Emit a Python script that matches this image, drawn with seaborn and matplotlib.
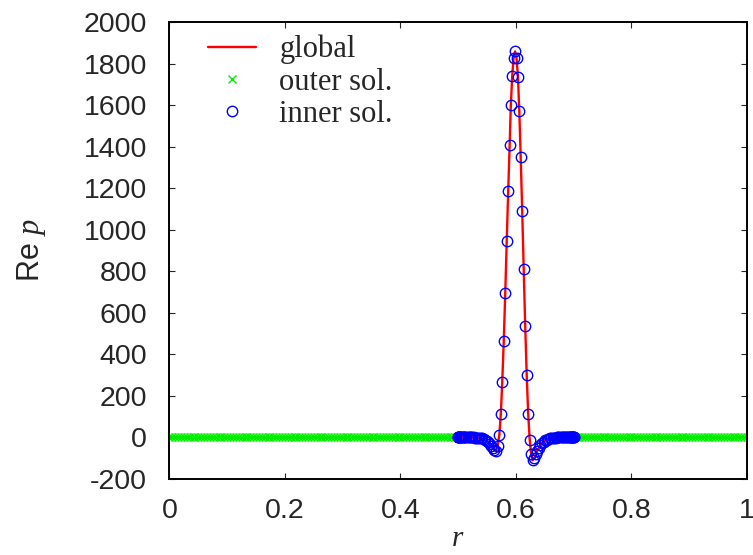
import numpy as np
import pandas as pd
import matplotlib
matplotlib.use("Agg")
import matplotlib.pyplot as plt
import seaborn as sns

# outer solution: uniform grid, flat at zero on both sides of the inner layer
outer_r = np.concatenate([np.linspace(0.0, 0.5, 101), np.linspace(0.7, 1.0, 61)])
outer_p = np.zeros_like(outer_r)

# inner solution
inner_r = [0.5000, 0.5002, 0.5005, 0.5009, 0.5015, 0.5022, 0.5030, 0.5040, 0.5051, 0.5063,
           0.5077, 0.5092, 0.5108, 0.5125, 0.5143, 0.5162, 0.5182, 0.5203, 0.5224, 0.5246,
           0.5269, 0.5292, 0.5316, 0.5340, 0.5365, 0.5390, 0.5415, 0.5441, 0.5467, 0.5493,
           0.5519, 0.5546, 0.5573, 0.5600, 0.5627, 0.5655, 0.5683, 0.5712, 0.5738, 0.5763,
           0.5789, 0.5815, 0.5840, 0.5866, 0.5891, 0.5911, 0.5935, 0.5958, 0.5985, 0.6010,
           0.6035, 0.6058, 0.6082, 0.6108, 0.6134, 0.6160, 0.6186, 0.6212, 0.6238, 0.6264,
           0.6290, 0.6316, 0.6343, 0.6370, 0.6397, 0.6424, 0.6451, 0.6478, 0.6505, 0.6532,
           0.6559, 0.6585, 0.6611, 0.6636, 0.6661, 0.6685, 0.6708, 0.6731, 0.6753, 0.6775,
           0.6796, 0.6816, 0.6835, 0.6853, 0.6870, 0.6886, 0.6901, 0.6915, 0.6928, 0.6939,
           0.6950, 0.6960, 0.6969, 0.6977, 0.6984, 0.6990, 0.6995, 0.6998, 0.7000]
inner_p = [0, 0, 0, 0, 0, 0, 0, 0, 0, 0,
           0, 0, 0, 0, 0, 0, 0, 0, 0, 0,
           0, -1, -1, -2, -2, -3, -5, -8, -12, -17,
           -23, -31, -41, -52, -62, -66, -42, 12, 113, 269,
           466, 698, 945, 1188, 1410, 1599, 1739, 1827, 1859, 1827,
           1736, 1570, 1350, 1093, 812, 539, 303, 113, -12, -80,
           -110, -100, -82, -64, -50, -38, -28, -20, -14, -10,
           -7, -5, -3, -2, -1, -1, 0, 0, 0, 0,
           0, 0, 0, 0, 0, 0, 0, 0, 0, 0,
           0, 0, 0, 0, 0, 0, 0, 0, 0]

# global solution follows the inner one in the layer and is zero elsewhere
global_r = [0.0] + inner_r + [1.0]
global_p = [0.0] + inner_p + [0.0]

sns.set_style("ticks")
plt.rcParams["font.family"] = ["Liberation Sans", "DejaVu Sans"]
plt.rcParams["mathtext.fontset"] = "custom"
plt.rcParams["mathtext.it"] = "Liberation Serif:italic"
plt.rcParams["mathtext.rm"] = "Liberation Serif"
plt.rcParams["axes.unicode_minus"] = False

fig = plt.figure(figsize=(7.53, 5.55), dpi=100)
ax = fig.add_axes([0.225, 0.137, 0.767, 0.823])

sns.lineplot(x=global_r, y=global_p, ax=ax, color="#ff0000", linewidth=1.7,
             sort=False, estimator=None, label="global")
sns.lineplot(x=outer_r, y=outer_p, ax=ax, linestyle="", marker="x", markersize=5.5,
             markeredgecolor="#00ee00", markeredgewidth=1.0, color="#00ee00",
             sort=False, estimator=None, label="outer sol.")
sns.lineplot(x=inner_r, y=inner_p, ax=ax, linestyle="", marker="o", markersize=7.5,
             markerfacecolor="none", markeredgecolor="#0000ff", markeredgewidth=1.0,
             color="#0000ff", sort=False, estimator=None, label="inner sol.")

ax.set_xlim(0, 1)
ax.set_ylim(-200, 2000)
ax.set_xticks([0, 0.2, 0.4, 0.6, 0.8, 1])
ax.set_xticklabels(["0", "0.2", "0.4", "0.6", "0.8", "1"])
ax.set_yticks(np.arange(-200, 2001, 200))
ax.tick_params(direction="in", length=4.5, width=0.8, labelsize=20.5,
               top=True, right=True, pad=14)
ax.tick_params(axis="y", pad=16)
for s in ax.spines.values():
    s.set_linewidth(1.4)
    s.set_color("black")

ax.set_xlabel(r"$r$", fontsize=21, labelpad=0)
ax.set_ylabel(r"Re $p$", fontsize=22, labelpad=26)

leg = ax.legend(loc="upper left", bbox_to_anchor=(0.066, 0.972), frameon=False,
                prop={"family": "Liberation Serif", "size": 22},
                handlelength=1.6, handletextpad=0.75, labelspacing=0.1,
                borderaxespad=0, borderpad=0, numpoints=1)

fig.savefig("out.png", dpi=100)
